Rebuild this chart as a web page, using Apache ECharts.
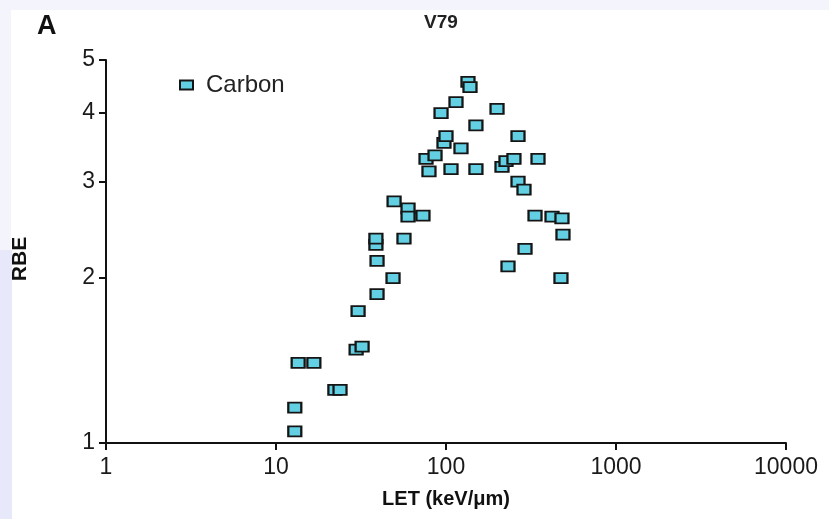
<!DOCTYPE html>
<html><head><meta charset="utf-8">
<script src="https://cdn.jsdelivr.net/npm/echarts@6/dist/echarts.min.js"></script>
<style>html,body{margin:0;padding:0;background:#fff}#c{width:829px;height:519px}</style>
</head><body><div id="c"></div>
<script>
// LET (keV/µm) values
const letValues = [12.9, 12.9, 13.5, 16.7, 22.2, 23.8, 29.6, 32.1, 30.4, 39.3,
  48.8, 39.3, 38.7, 38.7, 56.6, 49.5, 59.8, 59.8, 73.2, 79.4,
  76.3, 86.2, 97.3, 100, 93.5, 114.5, 134.7, 138.4, 107, 122.5,
  150, 150, 199.6, 213.5, 225.4, 251, 265.2, 347.7, 265.2, 287.6,
  333.9, 420.3, 481, 487.6, 291.6, 231.6, 474.5];
// RBE values
const rbeValues = [1.05, 1.16, 1.40, 1.40, 1.25, 1.25, 1.48, 1.50, 1.74, 1.87,
  2.00, 2.15, 2.30, 2.36, 2.36, 2.76, 2.68, 2.59, 2.60, 3.13,
  3.30, 3.35, 3.53, 3.63, 4.00, 4.19, 4.56, 4.46, 3.16, 3.45,
  3.80, 3.16, 4.07, 3.19, 3.27, 3.30, 3.63, 3.30, 3.00, 2.90,
  2.60, 2.59, 2.57, 2.40, 2.26, 2.10, 2.00];
const xTicks = [1, 10, 100, 1000, 10000];
const yTicks = [1, 2, 3, 4, 5];
const seriesName = 'Carbon';
const titleText = 'V79';
const panelLabel = 'A';
const yName = 'RBE';
const xName = 'LET (keV/\u03bcm)';

const pts = letValues.map((x, i) => [x, rbeValues[i]]);
const chart = echarts.init(document.getElementById('c'), null, {renderer: 'canvas'});
const font = 'Liberation Sans, Arial, sans-serif';
chart.setOption({
  animation: false,
  backgroundColor: '#ffffff',
  graphic: [
    {type: 'rect', shape: {x: 0, y: 0, width: 829, height: 10}, style: {fill: '#f4f4fc'}, z: -10},
    {type: 'rect', shape: {x: 0, y: 0, width: 11, height: 250}, style: {fill: '#f4f4fc'}, z: -10},
    {type: 'rect', shape: {x: 0, y: 250, width: 12, height: 269}, style: {fill: '#e8e8fb'}, z: -10},
    {type: 'text', left: 37, top: 13, style: {text: panelLabel, font: 'bold 27px ' + font, fill: '#111'}},
    {type: 'text', x: 20, y: 259, rotation: Math.PI / 2,
      style: {text: yName, font: 'bold 21px ' + font, fill: '#111', align: 'center', verticalAlign: 'middle'}}
  ],
  title: {text: titleText, left: 436, top: 8, textAlign: 'center',
    textStyle: {fontFamily: font, fontWeight: 'bold', fontSize: 19, color: '#222'}},
  legend: {left: 174, top: 68, itemWidth: 13, itemHeight: 9, itemGap: 10,
    textStyle: {fontFamily: font, fontSize: 24, color: '#222', padding: [0, 0, 0, 8]},
    data: [{name: seriesName, icon: 'rect'}]},
  grid: {left: 106, right: 43, top: 60, bottom: 76, containLabel: false},
  xAxis: {type: 'log', logBase: 10, min: 1, max: 10000,
    name: xName, nameLocation: 'middle', nameGap: 46,
    nameTextStyle: {fontFamily: font, fontWeight: 'bold', fontSize: 20, color: '#111'},
    axisLine: {lineStyle: {color: '#111', width: 2}},
    axisTick: {show: true, inside: false, length: 7, lineStyle: {color: '#111', width: 2}},
    minorTick: {show: false},
    axisLabel: {fontFamily: font, fontSize: 23, color: '#1a1a1a', margin: 13,
      customValues: xTicks, formatter: v => String(Math.round(v))},
    splitLine: {show: false}},
  yAxis: {type: 'log', logBase: 10, min: 1, max: 5,
    axisLine: {show: true, lineStyle: {color: '#111', width: 2}},
    axisTick: {show: true, inside: false, length: 7, lineStyle: {color: '#111', width: 2}, customValues: yTicks},
    minorTick: {show: false},
    axisLabel: {fontFamily: font, fontSize: 23, color: '#1a1a1a', margin: 11,
      customValues: yTicks, formatter: v => String(Math.round(v))},
    splitLine: {show: false}},
  series: [{
    name: seriesName, type: 'scatter', data: pts,
    symbol: 'rect', symbolSize: [13, 10],
    itemStyle: {color: '#62d0e2', borderColor: '#151515', borderWidth: 2, opacity: 1}
  }]
});
</script></body></html>
